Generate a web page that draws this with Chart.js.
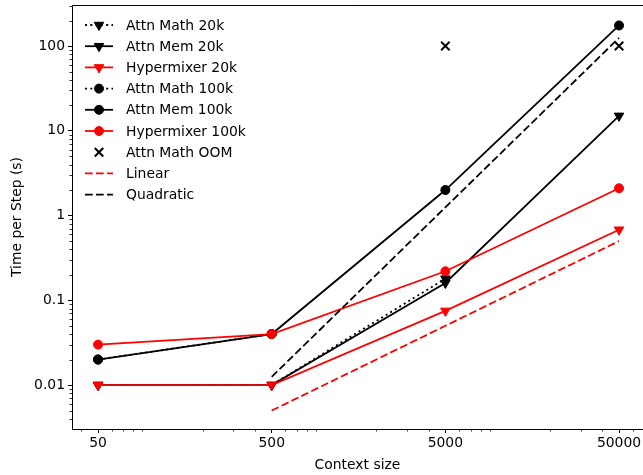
<!DOCTYPE html>
<html>
<head>
<meta charset="utf-8">
<script src="https://cdn.jsdelivr.net/npm/chart.js@4"></script>
<style>
  html, body { margin: 0; padding: 0; background: #fff; }
  #wrap { width: 643px; height: 475px; }
</style>
</head>
<body>
<div id="wrap"><canvas id="chart"></canvas></div>
<script>
// datos
const contextos = [50, 500, 5000, 50000];
const attnMath20k = [0.01, 0.01, 0.18, null];
const attnMem20k = [0.01, 0.01, 0.16, 15];
const hyper20k = [0.01, 0.01, 0.075, 0.68];
const attnMath100k = [0.02, 0.04, null, null];
const attnMem100k = [0.02, 0.04, 2.0, 175];
const hyper100k = [0.03, 0.04, 0.22, 2.1];
const oomMath = [null, null, 100, 100];
const lineal = [null, 0.005, 0.05, 0.5];
const cuadratica = [null, 0.0125, 1.25, 125];

const ticksX = [50, 500, 5000, 50000];
const ticksY = [0.01, 0.1, 1, 10, 100];

const FUENTE = "'DejaVu Sans', sans-serif";
const DOT = [2, 3.3];
const DASH = [7.7, 3.3];

function puntos(valores) {
  const out = [];
  valores.forEach((v, i) => {
    if (v !== null) out.push({ x: contextos[i], y: v });
  });
  return out;
}

function serie(label, valores, color, estilo, dash, linea) {
  return {
    label: label,
    data: puntos(valores),
    borderColor: color,
    backgroundColor: color,
    pointBorderColor: color,
    pointBackgroundColor: color,
    borderWidth: 1.8,
    borderDash: dash,
    showLine: linea,
    pointStyle: estilo,
    pointRadius: estilo === "triangle" ? 5.5 : (estilo === "crossRot" ? 6 : (estilo ? 4.5 : 0)),
    pointRotation: estilo === "triangle" ? 180 : 0,
    pointBorderWidth: estilo === "crossRot" ? 2 : 1,
    pointHoverRadius: 0,
    tension: 0,
    clip: false,
  };
}

const datasets = [
  serie("Attn Math 20k", attnMath20k, "#000000", "triangle", DOT, true),
  serie("Attn Mem 20k", attnMem20k, "#000000", "triangle", [], true),
  serie("Hypermixer 20k", hyper20k, "#ff0000", "triangle", [], true),
  serie("Attn Math 100k", attnMath100k, "#000000", "circle", DOT, true),
  serie("Attn Mem 100k", attnMem100k, "#000000", "circle", [], true),
  serie("Hypermixer 100k", hyper100k, "#ff0000", "circle", [], true),
  serie("Attn Math OOM", oomMath, "#000000", "crossRot", [], false),
  serie("Linear", lineal, "#ff0000", false, DASH, true),
  serie("Quadratic", cuadratica, "#000000", false, DASH, true),
];
// los últimos encima, como en matplotlib
datasets.forEach((d, i) => { d.order = -i; });

function sinPadding(scale) {
  scale.paddingTop = 0;
  scale.paddingBottom = 0;
  scale.paddingLeft = 0;
  scale.paddingRight = 0;
}

// marco, ticks menores y leyenda
const extras = {
  id: "extras",
  afterDraw(chart) {
    const ctx = chart.ctx;
    const area = chart.chartArea;
    ctx.save();
    ctx.strokeStyle = "#000";
    ctx.lineWidth = 1;
    ctx.beginPath();
    ctx.moveTo(area.left + 0.5, area.bottom + 0.5);
    ctx.lineTo(area.left + 0.5, area.top + 0.5);
    ctx.lineTo(area.right + 5, area.top + 0.5);
    ctx.moveTo(area.left, area.bottom + 0.5);
    ctx.lineTo(area.right + 5, area.bottom + 0.5);
    ctx.stroke();

    // ticks menores
    const sx = chart.scales.x, sy = chart.scales.y;
    ctx.lineWidth = 0.8;
    ctx.beginPath();
    for (let e = -3; e <= 5; e++) {
      for (let m = 2; m <= 9; m++) {
        const v = m * Math.pow(10, e);
        if (v > sx.min && v < sx.max && ticksX.indexOf(v) < 0) {
          const px = Math.round(sx.getPixelForValue(v)) + 0.5;
          ctx.moveTo(px, area.bottom);
          ctx.lineTo(px, area.bottom + 2.5);
        }
        if (v > sy.min && v < sy.max) {
          const py = Math.round(sy.getPixelForValue(v)) + 0.5;
          ctx.moveTo(area.left, py);
          ctx.lineTo(area.left - 2.5, py);
        }
      }
    }
    ctx.stroke();

    // leyenda
    ctx.font = "13.9px " + FUENTE;
    ctx.textBaseline = "middle";
    ctx.textAlign = "left";
    chart.data.datasets.forEach((d, i) => {
      const y = 25 + i * 21.2;
      ctx.strokeStyle = d.borderColor;
      ctx.fillStyle = d.backgroundColor;
      if (d.showLine) {
        ctx.lineWidth = d.borderWidth;
        ctx.setLineDash(d.borderDash);
        ctx.beginPath();
        ctx.moveTo(85, y);
        ctx.lineTo(113, y);
        ctx.stroke();
        ctx.setLineDash([]);
      }
      if (d.pointStyle) {
        ctx.lineWidth = d.pointBorderWidth;
        Chart.helpers.drawPoint(ctx, {
          pointStyle: d.pointStyle,
          radius: d.pointRadius,
          rotation: d.pointRotation,
          borderWidth: d.pointBorderWidth,
        }, 99, y);
      }
      ctx.fillStyle = "#000";
      ctx.fillText(d.label, 126, y + 1);
    });
    ctx.restore();
  },
};

const ctx = document.getElementById("chart").getContext("2d");
const grafica = new Chart(ctx, {
  type: "scatter",
  data: { datasets: datasets },
  plugins: [extras],
  options: {
    responsive: true,
    maintainAspectRatio: false,
    animation: false,
    events: [],
    layout: { autoPadding: false, padding: { top: 5, right: 0, left: 0, bottom: 0 } },
    plugins: {
      legend: { display: false },
      tooltip: { enabled: false },
    },
    scales: {
      x: {
        type: "logarithmic",
        min: 35.4,
        max: 68700,
        afterBuildTicks: (scale) => {
          scale.ticks = ticksX.map((v) => ({ value: v }));
        },
        afterFit: (scale) => { scale.height = 46; sinPadding(scale); },
        grid: {
          drawOnChartArea: false,
          drawTicks: true,
          tickLength: 4,
          tickColor: "#000",
          color: "#000",
        },
        border: { display: false },
        ticks: {
          color: "#000",
          font: { family: FUENTE, size: 13.9 },
          padding: 2,
          maxRotation: 0,
          autoSkip: false,
          callback: (v) => String(v),
        },
        title: {
          display: true,
          text: "Context size",
          color: "#000",
          font: { family: FUENTE, size: 13.9 },
          padding: { top: 0, bottom: 1 },
        },
      },
      y: {
        type: "logarithmic",
        min: 0.00303,
        max: 305,
        afterBuildTicks: (scale) => {
          scale.ticks = ticksY.map((v) => ({ value: v }));
        },
        afterFit: (scale) => { scale.width = 72; sinPadding(scale); },
        grid: {
          drawOnChartArea: false,
          drawTicks: true,
          tickLength: 4,
          tickColor: "#000",
          color: "#000",
        },
        border: { display: false },
        ticks: {
          color: "#000",
          font: { family: FUENTE, size: 13.9 },
          padding: 3,
          autoSkip: false,
          callback: (v) => String(v),
        },
        title: {
          display: true,
          text: "Time per Step (s)",
          color: "#000",
          font: { family: FUENTE, size: 13.9 },
          padding: { top: 9, bottom: 0 },
        },
      },
    },
  },
});
</script>
</body>
</html>
